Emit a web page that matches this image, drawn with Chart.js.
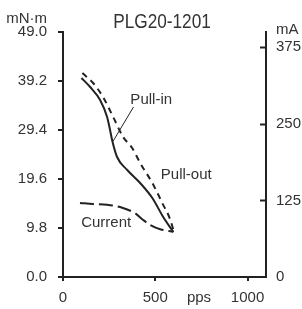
<!DOCTYPE html>
<html>
<head>
    <title>PLG20-1201</title>
    <script src="https://cdn.jsdelivr.net/npm/chart.js"></script>
    <style>
        body { margin: 0; background: #fff; }
    </style>
</head>
<body>
    <canvas id="myChart" width="302" height="309"></canvas>

    <script>
        // speed (pps) and torque (mN·m)
        var pullInX = [100, 147, 201, 239, 255, 266, 293, 348, 418, 484, 543, 598];
        var pullInY = [39.8, 38.0, 35.4, 32.0, 29.4, 27.4, 24.0, 21.4, 18.8, 15.8, 12.0, 9.0];
        var pullOutX = [105, 163, 217, 272, 326, 375, 418, 484, 538, 582, 598];
        var pullOutY = [40.8, 38.8, 36.0, 32.0, 28.0, 25.8, 22.8, 18.8, 14.8, 11.4, 9.4];
        // current (mA)
        var currentX = [92, 163, 239, 321, 391, 435, 473, 527, 598];
        var currentY = [121, 119, 118, 113, 104, 93, 85, 78, 74];

        var torqueTicks = [0, 9.8, 19.6, 29.4, 39.2, 49.0];
        var currentTicks = [0, 125, 250, 375];
        var speedTicks = [0, 500, 1000];

        var FONT = '"Liberation Sans", Arial, sans-serif';
        var INK = '#222';
        var TXT = '#333';

        function pts(xs, ys) {
            return xs.map(function (x, i) { return {x: x, y: ys[i]}; });
        }

        function fixTicks(list) {
            return function (scale) {
                scale.ticks = list.map(function (v) { return {value: v}; });
            };
        }

        // texts, labels and the inward ticks of the right axis
        var extras = {
            id: 'extras',
            afterDraw: function (chart) {
                var ctx = chart.ctx;
                var xs = chart.scales.x, yl = chart.scales.y, yr = chart.scales.y2;
                var area = chart.chartArea;
                ctx.save();
                ctx.fillStyle = TXT;
                ctx.textBaseline = 'middle';

                // condensed title: squeeze the regular face horizontally
                ctx.save();
                ctx.translate(162, 22);
                ctx.scale(0.82, 1);
                ctx.font = '21px ' + FONT;
                ctx.textAlign = 'center';
                ctx.fillText('PLG20-1201', 0, 0);
                ctx.restore();

                ctx.font = '15px ' + FONT;
                ctx.textAlign = 'right';
                ctx.fillText('mN·m', 47, 19);
                ctx.textAlign = 'left';
                ctx.fillText('mA', 276, 30);
                ctx.textAlign = 'center';
                ctx.fillText('pps', 199, 298);

                ctx.fillText('Pull-in', xs.getPixelForValue(478), yl.getPixelForValue(35.4));
                ctx.fillText('Pull-out', xs.getPixelForValue(668), yl.getPixelForValue(20.4));
                ctx.fillText('Current', xs.getPixelForValue(234), yl.getPixelForValue(10.8));

                // leader from "Pull-in" to its curve
                ctx.strokeStyle = INK;
                ctx.lineWidth = 1;
                ctx.beginPath();
                ctx.moveTo(xs.getPixelForValue(382), yl.getPixelForValue(34));
                ctx.lineTo(xs.getPixelForValue(272), yl.getPixelForValue(27.2));
                ctx.stroke();

                ctx.lineWidth = 2;
                currentTicks.slice(1).forEach(function (v) {
                    var py = Math.round(yr.getPixelForValue(v)) + 0.5;
                    ctx.beginPath();
                    ctx.moveTo(area.right - 6, py);
                    ctx.lineTo(area.right, py);
                    ctx.stroke();
                });
                ctx.restore();
            }
        };

        var chart = new Chart(document.getElementById('myChart'), {
            type: 'line',
            data: {
                datasets: [{
                    label: 'Pull-in',
                    data: pts(pullInX, pullInY),
                    borderColor: INK,
                    borderWidth: 2,
                    yAxisID: 'y'
                }, {
                    label: 'Pull-out',
                    data: pts(pullOutX, pullOutY),
                    borderColor: INK,
                    borderWidth: 2,
                    borderDash: [6, 5],
                    yAxisID: 'y'
                }, {
                    label: 'Current',
                    data: pts(currentX, currentY),
                    borderColor: INK,
                    borderWidth: 2,
                    borderDash: [14, 5],
                    yAxisID: 'y2'
                }]
            },
            options: {
                responsive: false,
                animation: false,
                layout: {padding: {top: 32}},
                elements: {
                    point: {radius: 0},
                    line: {cubicInterpolationMode: 'monotone', fill: false}
                },
                plugins: {
                    legend: {display: false},
                    tooltip: {enabled: false}
                },
                scales: {
                    x: {
                        type: 'linear',
                        min: 0,
                        max: 1100,
                        afterBuildTicks: fixTicks(speedTicks),
                        afterFit: function (s) { s.height = 32; },
                        border: {color: INK, width: 2},
                        grid: {drawOnChartArea: false, color: INK, lineWidth: 2, tickLength: 4},
                        ticks: {
                            color: TXT, font: {family: FONT, size: 15}, padding: 8, maxRotation: 0,
                            callback: function (v) { return String(v); }
                        }
                    },
                    y: {
                        position: 'left',
                        min: 0,
                        max: 49,
                        afterBuildTicks: fixTicks(torqueTicks),
                        afterFit: function (s) { s.width = 63; },
                        border: {color: INK, width: 2},
                        grid: {drawOnChartArea: false, color: INK, lineWidth: 2, tickLength: 5},
                        ticks: {
                            color: TXT, font: {family: FONT, size: 15}, padding: 11,
                            callback: function (v) { return v.toFixed(1); }
                        }
                    },
                    y2: {
                        position: 'right',
                        min: 0,
                        max: 400,
                        afterBuildTicks: fixTicks(currentTicks),
                        afterFit: function (s) { s.width = 36; },
                        border: {color: INK, width: 2},
                        grid: {drawOnChartArea: false, drawTicks: false},
                        ticks: {color: TXT, font: {family: FONT, size: 15}, padding: 10}
                    }
                }
            },
            plugins: [extras]
        });
    </script>
</body>
</html>
